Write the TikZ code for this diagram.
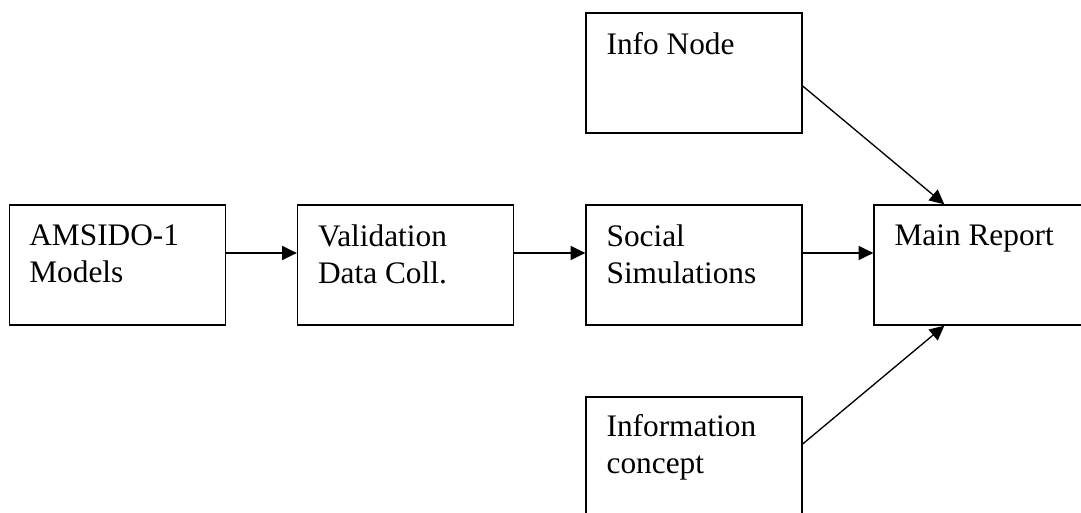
\documentclass[tikz,border=0pt]{standalone}
\usepackage{fontspec}
\setmainfont{Liberation Serif}
\usetikzlibrary{arrows.meta,calc}
\begin{document}
\begin{tikzpicture}[x=0.75pt,y=-0.75pt,
  box/.style={draw, line width=1pt, minimum width=162pt, minimum height=90pt, inner sep=0pt},
  txt/.style={anchor=north west, align=left, inner sep=0pt, font=\fontsize{23.5}{27.75}\selectfont},
  arr/.style={line width=1pt, -{Triangle[length=11pt,width=10.5pt]}}]
\useasboundingbox (0,0) rectangle (1081,513);
\clip (0,0) rectangle (1081,513);
\node[box] (A) at (117.75,265) {};
\node[box] (V) at (405.5,265) {};
\node[box] (S) at (694,265) {};
\node[box] (M) at (982,265) {};
\node[box] (I) at (694,73) {};
\node[box] (C) at (694,457) {};
\node[txt] (tA) at ($(A.north west)+(20,20)$) {AMSIDO-1\\Models};
\node[txt] (tV) at ($(V.north west)+(21,20)$) {Validation\\Data Coll.};
\node[txt] (tS) at ($(S.north west)+(21,20)$) {Social\\Simulations};
\node[txt] (tM) at ($(M.north west)+(21,20)$) {Main Report};
\node[txt] (tI) at ($(I.north west)+(21,20)$) {Info Node};
\node[txt] (tC) at ($(C.north west)+(21,18)$) {Information\\concept};
\draw[arr] ([yshift=9pt]A.east) -- ([yshift=9pt]V.west);
\draw[arr] ([yshift=9pt]V.east) -- ([yshift=9pt]S.west);
\draw[arr] ([yshift=9pt]S.east) -- ([yshift=9pt]M.west);
\draw[arr] ([yshift=-9.75pt]I.east) -- ([xshift=53.25pt]M.north west);
\draw[arr] ([yshift=9.75pt]C.east) -- ([xshift=53.25pt]M.south west);
\end{tikzpicture}
\end{document}
